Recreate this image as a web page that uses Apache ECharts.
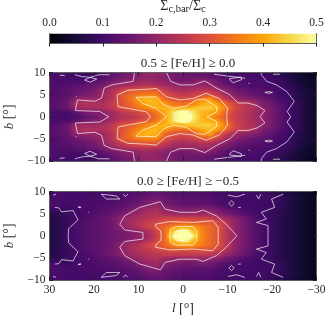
<!DOCTYPE html>
<html><head><meta charset="utf-8">
<style>html,body{margin:0;padding:0;background:#fff}#c{width:334px;height:315px}</style>
<script src="https://cdn.jsdelivr.net/npm/echarts@6/dist/echarts.min.js"></script>
</head><body><div id="c"></div>
<script>
// longitude columns of the maps
const lonValues = [30,28,26,24,22,20,18,16,14,12,10,8,6,4,2,0,-2,-4,-6,-8,-10,-12,-14,-16,-18,-20,-22,-24,-26,-28,-30];
// ratio per |b| = 0..10 (the maps are mirror symmetric in b)
const metalRich = [
[.11,.10,.10,.11,.13,.15,.18,.21,.23,.24,.26,.29,.33,.39,.47,.53,.49,.42,.39,.34,.29,.26,.24,.22,.19,.16,.13,.10,.08,.05,.035],
[.11,.11,.11,.13,.17,.18,.19,.22,.25,.27,.29,.31,.35,.40,.47,.51,.47,.42,.41,.38,.31,.27,.25,.22,.20,.16,.13,.10,.08,.05,.035],
[.12,.13,.15,.21,.22,.22,.23,.25,.30,.31,.35,.37,.41,.42,.40,.41,.43,.44,.44,.41,.34,.28,.25,.23,.19,.16,.13,.10,.08,.05,.035],
[.12,.13,.15,.22,.24,.23,.23,.26,.30,.33,.37,.41,.42,.38,.34,.33,.35,.40,.42,.38,.31,.27,.25,.22,.17,.15,.12,.10,.08,.05,.035],
[.12,.13,.14,.19,.20,.20,.21,.24,.30,.34,.40,.42,.41,.33,.30,.29,.30,.35,.39,.30,.25,.21,.19,.18,.15,.13,.11,.09,.07,.05,.035],
[.12,.12,.13,.15,.17,.18,.21,.24,.31,.33,.35,.36,.36,.30,.27,.26,.27,.29,.30,.26,.21,.18,.16,.14,.13,.12,.10,.09,.07,.05,.035],
[.12,.12,.13,.14,.15,.16,.20,.23,.26,.30,.31,.31,.31,.26,.23,.22,.23,.24,.24,.21,.18,.15,.14,.13,.12,.11,.10,.09,.06,.05,.035],
[.12,.12,.12,.13,.14,.15,.17,.20,.22,.23,.24,.25,.24,.22,.21,.20,.20,.21,.20,.17,.15,.13,.12,.11,.11,.105,.095,.08,.06,.04,.03],
[.12,.11,.11,.11,.11,.12,.14,.16,.18,.19,.20,.21,.20,.19,.17,.16,.17,.19,.18,.15,.12,.12,.11,.11,.11,.10,.09,.07,.05,.04,.03],
[.11,.11,.10,.10,.095,.10,.12,.14,.16,.17,.19,.20,.20,.18,.16,.15,.15,.15,.14,.13,.115,.11,.105,.105,.10,.09,.08,.06,.05,.03,.03],
[.11,.11,.10,.10,.09,.09,.11,.13,.15,.16,.18,.20,.20,.19,.16,.15,.15,.14,.14,.12,.10,.10,.10,.10,.09,.08,.07,.06,.04,.03,.025]
];
const metalPoor = [
[.06,.07,.095,.11,.12,.13,.14,.15,.16,.17,.19,.21,.26,.33,.505,.55,.50,.37,.33,.30,.24,.20,.16,.13,.105,.09,.07,.06,.05,.035,.02],
[.06,.07,.095,.11,.12,.13,.14,.15,.16,.18,.20,.22,.27,.34,.44,.52,.44,.37,.33,.295,.24,.19,.16,.13,.105,.09,.07,.06,.05,.035,.02],
[.06,.07,.09,.11,.12,.13,.14,.155,.195,.215,.24,.27,.30,.33,.38,.40,.40,.36,.33,.30,.24,.19,.16,.13,.105,.09,.07,.06,.05,.035,.02],
[.06,.07,.09,.105,.12,.13,.14,.155,.19,.22,.24,.26,.28,.30,.31,.32,.31,.31,.31,.28,.23,.19,.155,.125,.105,.09,.07,.06,.05,.035,.02],
[.06,.075,.09,.10,.115,.125,.14,.16,.19,.21,.23,.24,.25,.27,.27,.27,.27,.27,.26,.24,.21,.18,.15,.12,.10,.09,.07,.06,.05,.035,.02],
[.065,.08,.095,.10,.11,.12,.13,.14,.16,.19,.21,.23,.24,.22,.21,.205,.205,.21,.21,.19,.16,.14,.12,.11,.095,.09,.07,.06,.05,.035,.02],
[.10,.09,.09,.10,.105,.11,.12,.13,.14,.16,.19,.21,.22,.19,.18,.17,.17,.18,.17,.15,.13,.12,.11,.10,.095,.09,.08,.06,.05,.035,.02],
[.11,.11,.10,.105,.11,.11,.12,.12,.13,.14,.16,.18,.20,.17,.15,.14,.14,.14,.14,.12,.11,.105,.10,.10,.095,.095,.08,.06,.05,.035,.02],
[.11,.11,.105,.105,.105,.11,.11,.115,.12,.13,.14,.16,.17,.15,.14,.13,.13,.13,.12,.11,.105,.105,.10,.10,.10,.10,.085,.06,.05,.035,.02],
[.10,.105,.105,.105,.105,.105,.10,.11,.11,.12,.13,.14,.15,.14,.13,.12,.12,.12,.115,.105,.10,.10,.10,.10,.10,.09,.08,.06,.05,.03,.02],
[.10,.10,.10,.10,.10,.10,.10,.105,.11,.115,.12,.13,.14,.13,.12,.12,.12,.11,.11,.10,.10,.095,.095,.095,.09,.08,.07,.05,.04,.03,.02]
];
// Contours: upper half (b >= 0), mirrored below the plane
const richClosed = [
 [[16.7,0],[18.7,1.2],[24.2,1.4],[23.7,3.8],[19.8,3.5],[18.3,4.2],[17.7,6.5],[16,7.2],[11.2,8],[10.9,10]],
 [[3.7,10],[2.8,8],[.7,7.2],[-2.3,7.2],[-4.9,8.1],[-7.5,6.5],[-10.5,5],[-12.4,3.1],[-14.6,3.1],[-16.7,2.5],[-18.4,1.4],[-17.3,0]],
 [[-17.6,10],[-17.6,9.5],[-18.8,8],[-21,7.2],[-23.3,5.7],[-25,3.5],[-23.4,1.2],[-24.2,0]],
 [[7.3,0],[8.2,1.1],[14.6,2.3],[14.8,4.9],[12.4,6],[8.2,6.2],[6,6.4],[3.7,4.5],[.7,3.8],[-2.2,4.1],[-5.2,5.3],[-8.2,4.1],[-10,1.9],[-9.8,0]],
 [[3.7,0],[6,1.9],[9,3],[10.6,4.4],[6,4.5],[4.5,2.8],[2.2,1.9],[-.75,2.4],[-3,3.8],[-4.9,4],[-7.5,2.3],[-7.6,1.1],[-5.4,0]],
 [[1.9,0],[1.9,.6],[1,1.2],[-1,1.2],[-1.9,.6],[-1.9,0]]
];
const richFragments = [
 [[27.7,9.4],[26.6,9.3]],
 [[24.3,9.5],[22.8,9.1],[20.9,8.9],[19,9.5],[16.5,9.5]],
 [[22.1,8.3],[20.9,7.8],[19.4,8.5],[20.9,8.9],[22.1,8.3]],
 [[-7,9.6],[-10,9.2],[-14,8.7]],
 [[-10.5,8.3],[-11.3,7.7],[-13.2,8.4],[-13,9],[-10.5,8.6],[-10.5,8.3]],
 [[-14.7,7.6],[-15,7.5]],
 [[-18.4,5.5],[-19.2,5.7],[-20.1,5.5],[-19.2,5.3],[-18.4,5.5]],
 [[-20,9.6],[-21.8,9.6]],
 [[23.9,4.5],[24.1,4.5]]
];
const poorClosed = [
 [[28.8,6.4],[27.9,6.3],[27.3,5.4],[24.7,5.7],[23.6,3.6],[25.7,1.6],[25.8,0]],
 [[-22.5,9.4],[-19.9,8.3],[-20.6,6.4],[-17.6,5.3],[-18.7,3.8],[-16.5,3],[-19.1,2.3],[-19.1,0]],
 [[9,0],[9,.75],[13.1,1.3],[14.2,2.6],[13.1,4.5],[9.7,6.4],[5.1,7.7],[4,6],[.7,5.3],[-3,5.3],[-4.5,5.8],[-7.5,4.5],[-9.7,2.6],[-12.1,0]],
 [[4.9,0],[5,1.1],[6,1.9],[6.2,2.6],[3,3.2],[-2.2,3],[-6.7,3.4],[-7.9,1.9],[-7.9,0]],
 [[3,0],[2.8,1.5],[1.5,2.1],[-2.2,2.1],[-3.1,1.1],[-3.1,0]],
 [[2.1,0],[1.5,1],[-1.1,1.3],[-2,0]]
];
const poorFragments = [
 [[18.4,9.4],[17.2,8.3],[14.2,8.3],[15,9],[18.4,9.4]],
 [[13.5,9.4],[12.9,8.9],[12.4,9.4]],
 [[29.2,9.2],[28.5,9.4]],
 [[-10.9,7.9],[-10.3,7.3],[-10.9,6.7],[-11.5,7.3],[-10.9,7.9]],
 [[-12.4,6.4],[-13,6.4]],
 [[-10.1,9.2],[-12,8.8],[-13.9,9.4]],
 [[-16.5,9.2],[-17,8.3],[-17.5,9.4]],
 [[23,6.5],[23.6,6.5],[23.6,6.3],[23,6.3],[23,6.5]],
 [[21.3,5.3],[21.1,5.3]]
];
const colorbarValues = [0,.05,.1,.15,.2,.25,.3,.35,.4,.45,.5];
const infernoColors = ['#000004','#160b39','#420a68','#6a176e','#932667','#bc3754','#dd513a','#f37819','#fca50a','#f6d746','#fcffa4'];
const titles = ['0.5 \u2265 [Fe/H] \u2265 0.0','0.0 \u2265 [Fe/H] \u2265 \u22120.5'];

const FONT = '"Liberation Serif","DejaVu Serif",serif';
const TXT = '#262626';
function hex(c){return [1,3,5].map(i=>parseInt(c.substr(i,2),16));}
const pal = infernoColors.map(hex);
function col(v){
  const t=Math.max(0,Math.min(1,v/0.5))*10, i=Math.min(9,Math.floor(t)), f=t-i;
  const a=pal[i],b=pal[i+1];
  return 'rgb('+a.map((x,k)=>Math.round(x+(b[k]-x)*f)).join(',')+')';
}
function hGrad(a,b){
  const stops=[0,.25,.5,.75,1].map(o=>({offset:o,color:col(a+(b-a)*o)}));
  return {type:'linear',x:0,y:0,x2:1,y2:0,colorStops:stops};
}
function cells(rows){
  const out=[];
  const val=(i,b)=>rows[Math.abs(b)][i];
  for(let b=-10;b<10;b++) for(let i=0;i<lonValues.length-1;i++)
    out.push([lonValues[i],b,lonValues[i+1],b+1,val(i,b),val(i+1,b),val(i,b+1),val(i+1,b+1)]);
  return out;
}
const STRIPS=4;
function renderCell(p,api){
  const l0=api.value(0),b0=api.value(1),l1=api.value(2),b1=api.value(3);
  const v00=api.value(4),v10=api.value(5),v01=api.value(6),v11=api.value(7);
  const A=api.coord([l0,b0]),B=api.coord([l1,b1]);
  const x0=Math.round(A[0]),x1=Math.round(B[0]);
  const children=[];
  for(let s=0;s<STRIPS;s++){
    const t=(s+.5)/STRIPS;
    const y0=Math.round(A[1]+(B[1]-A[1])*s/STRIPS),y1=Math.round(A[1]+(B[1]-A[1])*(s+1)/STRIPS);
    if(y0===y1) continue;
    children.push({type:'rect',shape:{x:x0,y:Math.min(y0,y1),width:x1-x0,height:Math.abs(y1-y0)},
      style:{fill:hGrad(v00+(v01-v00)*t,v10+(v11-v10)*t)},silent:true});
  }
  return {type:'group',children};
}
function renderBar(p,api){
  const A=api.coord([api.value(0),0]),B=api.coord([api.value(1),1]);
  const x0=Math.round(A[0]),x1=Math.round(B[0]);
  return {type:'rect',shape:{x:x0,y:B[1],width:x1-x0,height:A[1]-B[1]},style:{fill:hGrad(api.value(0),api.value(1))},silent:true};
}
const mirror=p=>p.map(q=>[q[0],-q[1]]);
function closed(u){
  const m=mirror(u).reverse(), first0=u[0][1]===0, last0=u[u.length-1][1]===0;
  if(first0&&last0) return u.concat(m,[u[0]]);
  return last0? u.concat(m) : m.concat(u);
}
function lineSeries(pts,ax){
  return {type:'line',xAxisIndex:ax,yAxisIndex:ax,data:pts,showSymbol:false,symbol:'none',silent:true,z:3,clip:true,
    lineStyle:{color:'rgba(255,255,255,0.8)',width:0.85},animation:false};
}
const line={lineStyle:{color:'#5f5f5f',width:1}};
const tickIn={inside:true,length:3.5,lineStyle:{color:'#222',width:1}};
const lab={fontFamily:FONT,fontSize:11.5,color:TXT,margin:4};
const minus=v=>String(v).replace('-','\u2212');
const rich={i:{fontFamily:FONT,fontStyle:'italic',fontSize:13,color:TXT},n:{fontFamily:FONT,fontSize:14,color:TXT},
  s:{fontFamily:FONT,fontSize:10.5,color:TXT,verticalAlign:'bottom',padding:[5,0,0,0]},S:{fontFamily:FONT,fontSize:14,color:TXT}};
const G=[{left:49.5,width:267,top:33.5,height:9.5},{left:49.5,width:267,top:72.5,height:88.5},{left:49.5,width:267,top:191.5,height:88.5}]
  .map(g=>Object.assign(g,{outerBoundsMode:'none',containLabel:false}));
const xAxes=[],yAxes=[];
xAxes.push({gridIndex:0,type:'value',position:'top',min:0,max:.5,interval:.1,z:6,axisLine:{show:true,...line},axisTick:{show:true,...tickIn},
  axisLabel:{show:true,...lab,formatter:v=>v.toFixed(1),margin:5},splitLine:{show:false},
  name:'{S|\u03A3}{s|c,bar}{n|/}{S|\u03A3}{s|c}',nameLocation:'middle',nameGap:19,nameTextStyle:{rich}});
yAxes.push({gridIndex:0,type:'value',min:0,max:1,show:true,z:6,axisLine:{show:true,...line},axisTick:{show:false},axisLabel:{show:false},splitLine:{show:false}});
[1,2].forEach(g=>{
  const bottom=g===2;
  xAxes.push({gridIndex:g,type:'value',position:'bottom',min:-30,max:30,interval:10,inverse:true,z:6,axisLine:{show:true,onZero:false,...line},
    axisTick:{show:true,...tickIn},axisLabel:{show:bottom,...lab,formatter:minus,showMinLabel:true,showMaxLabel:true},splitLine:{show:false},
    name:bottom?'{i|l} {n|[\u00B0]}':'',nameLocation:'middle',nameGap:22,nameTextStyle:{rich}});
  yAxes.push({gridIndex:g,type:'value',position:'left',min:-10,max:10,interval:5,z:6,axisLine:{show:true,onZero:false,...line},
    axisTick:{show:true,...tickIn},axisLabel:{show:true,...lab,formatter:minus,showMinLabel:true,showMaxLabel:true},splitLine:{show:false},
    name:'{i|b} {n|[\u00B0]}',nameLocation:'middle',nameGap:27,nameRotate:90,nameTextStyle:{rich}});
});
[1,2].forEach(g=>{
  xAxes.push({gridIndex:g,type:'value',position:'top',min:-30,max:30,interval:10,inverse:true,z:6,axisLine:{show:true,onZero:false,...line},axisTick:{show:true,...tickIn},axisLabel:{show:false},splitLine:{show:false}});
  yAxes.push({gridIndex:g,type:'value',position:'right',min:-10,max:10,interval:5,z:6,axisLine:{show:true,onZero:false,...line},axisTick:{show:true,...tickIn},axisLabel:{show:false},splitLine:{show:false}});
});
// remaining two edges of the colourbar frame
xAxes.push({gridIndex:0,type:'value',position:'bottom',min:0,max:.5,interval:.1,z:6,axisLine:{show:true,onZero:false,...line},axisTick:{show:false},axisLabel:{show:false},splitLine:{show:false}});
yAxes.push({gridIndex:0,type:'value',position:'right',min:0,max:1,z:6,axisLine:{show:true,onZero:false,...line},axisTick:{show:false},axisLabel:{show:false},splitLine:{show:false}});
const series=[];
const barData=colorbarValues.slice(0,-1).map((v,i)=>[v,colorbarValues[i+1]]);
series.push({type:'custom',xAxisIndex:0,yAxisIndex:0,data:barData,renderItem:renderBar,encode:{x:[0,1]},silent:true,z:1,animation:false,clip:true});
[[metalRich,richClosed,richFragments,1],[metalPoor,poorClosed,poorFragments,2]].forEach(([rows,cl,fr,ax])=>{
  series.push({type:'custom',xAxisIndex:ax,yAxisIndex:ax,data:cells(rows),renderItem:renderCell,encode:{x:[0,2],y:[1,3]},silent:true,z:1,animation:false,clip:true,dimensions:['l0','b0','l1','b1','a','b','c','d']});
  cl.forEach(u=>series.push(lineSeries(closed(u),ax)));
  fr.forEach(u=>{series.push(lineSeries(u,ax));series.push(lineSeries(mirror(u),ax));});
});
const chart=echarts.init(document.getElementById('c'),null,{renderer:'canvas',width:334,height:315});
chart.setOption({animation:false,backgroundColor:'#fff',
 title:[
  {text:titles[0],left:183,top:52.5,textAlign:'center',textStyle:{fontFamily:FONT,fontSize:13,fontWeight:'normal',color:TXT}},
  {text:titles[1],left:183,top:170.5,textAlign:'center',textStyle:{fontFamily:FONT,fontSize:13,fontWeight:'normal',color:TXT}}
 ],
 grid:G,xAxis:xAxes,yAxis:yAxes,series});
</script></body></html>
